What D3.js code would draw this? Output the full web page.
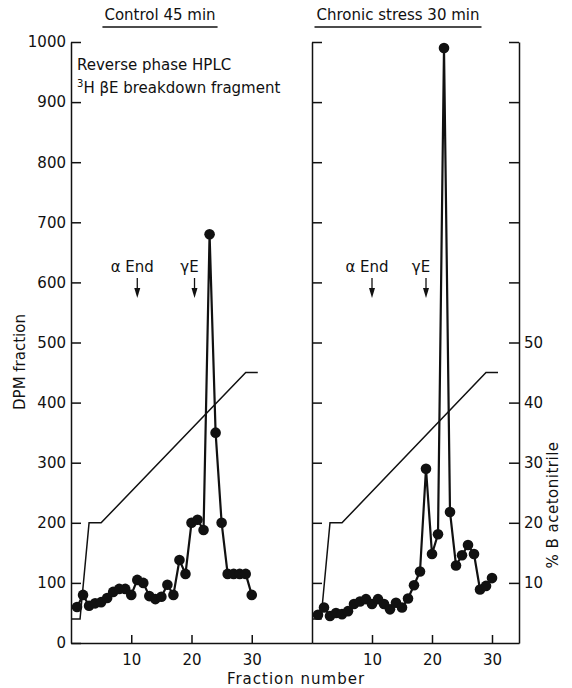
<!DOCTYPE html>
<html>
<head>
<meta charset="utf-8">
<script src="https://cdn.jsdelivr.net/npm/d3@7"></script>
<style>
  body { margin: 0; background: #fff; }
  svg text { font-family: "DejaVu Sans", sans-serif; fill: #111; }
</style>
</head>
<body>
<div id="chart-container"></div>
<script>
// Fraction numbers (x) shared by both runs
const fractions = [1, 2, 3, 4, 5, 6, 7, 8, 9, 10, 11, 12, 13, 14, 15,
                   16, 17, 18, 19, 20, 21, 22, 23, 24, 25, 26, 27, 28, 29, 30];

// DPM per fraction
const controlDPM = [60, 80, 62, 66, 68, 75, 85, 90, 90, 80, 105, 100, 78, 73, 77,
                    97, 80, 138, 115, 200, 205, 188, 680, 350, 200, 115, 115, 115, 115, 80];
const stressDPM = [47, 59, 45, 50, 48, 53, 65, 69, 73, 65, 73, 65, 56, 67, 59,
                   74, 96, 119, 290, 148, 181, 990, 218, 129, 146, 163, 148, 89, 95, 108];

// acetonitrile gradient (% B) against fraction number
const gradientFraction = [0, 1.5, 3, 5, 29, 31];
const gradientPctB = [4, 4, 20, 20, 45, 45];

// elution markers
const markerLabels = ["α End", "γE"];
const controlMarkerFraction = [11, 20.5];
const stressMarkerFraction = [10, 19];

// ticks
const dpmTicks = [0, 100, 200, 300, 400, 500, 600, 700, 800, 900, 1000];
const pctTicks = [10, 20, 30, 40, 50, 60, 70, 80, 90, 100];
const pctLabelMax = 50;
const fractionTicks = [10, 20, 30];

const panelTitles = ["Control 45 min", "Chronic stress 30 min"];

const W = 572, H = 688;
const plotTop = 42, plotBottom = 643;
const leftEdge = 71, midEdge = 312, rightEdge = 519;

const svg = d3.select("#chart-container")
  .append("svg")
  .attr("width", W)
  .attr("height", H);

const y = d3.scaleLinear().domain([0, 1000]).range([plotBottom, plotTop]);
const yPct = d3.scaleLinear().domain([0, 100]).range([plotBottom, plotTop]);
const xLeft = d3.scaleLinear().domain([0, 40]).range([leftEdge, midEdge]);
const xRight = d3.scaleLinear().domain([0, 34.5]).range([midEdge, rightEdge]);

function styleAxis(g) {
  g.selectAll("path, line").attr("stroke", "#111").attr("stroke-width", 1.5);
  g.selectAll("text").attr("font-size", 15).attr("fill", "#111")
    .attr("font-family", "DejaVu Sans, sans-serif");
}

// left DPM axis, ticks pointing in
svg.append("g")
  .attr("transform", `translate(${leftEdge},0)`)
  .call(d3.axisLeft(y).tickValues(dpmTicks).tickSizeInner(-10).tickSizeOuter(0).tickPadding(5)
    .tickFormat(d3.format("d")))
  .call(styleAxis);

// middle divider with ticks into the right panel
svg.append("g")
  .attr("transform", `translate(${midEdge},0)`)
  .call(d3.axisLeft(y).tickValues(dpmTicks.slice(1)).tickSizeInner(-10).tickSizeOuter(0).tickFormat(""))
  .call(styleAxis);

// right % B axis
svg.append("g")
  .attr("transform", `translate(${rightEdge},0)`)
  .call(d3.axisRight(yPct).tickValues(pctTicks).tickSizeInner(-10).tickSizeOuter(0).tickPadding(5)
    .tickFormat(d => d <= pctLabelMax ? d : ""))
  .call(styleAxis);

// bottom axes
[xLeft, xRight].forEach(x => {
  svg.append("g")
    .attr("transform", `translate(0,${plotBottom})`)
    .call(d3.axisBottom(x).tickValues(fractionTicks).tickSizeInner(-8).tickSizeOuter(0).tickPadding(11))
    .call(styleAxis);
});

const line = x => d3.line().x(d => x(d[0])).y(d => y(d[1]));
const gradLine = x => d3.line().x(d => x(d[0])).y(d => yPct(d[1]));

function drawPanel(x, values, markerFraction, title, titleX) {
  const g = svg.append("g");

  // gradient
  g.append("path")
    .datum(gradientFraction.map((f, i) => [f, gradientPctB[i]]))
    .attr("fill", "none")
    .attr("stroke", "#111")
    .attr("stroke-width", 1.5)
    .attr("d", gradLine(x));

  // DPM profile
  const pts = fractions.map((f, i) => [f, values[i]]);
  g.append("path")
    .datum(pts)
    .attr("fill", "none")
    .attr("stroke", "#111")
    .attr("stroke-width", 2.2)
    .attr("stroke-linejoin", "round")
    .attr("d", line(x));

  g.selectAll("circle")
    .data(pts)
    .join("circle")
    .attr("cx", d => x(d[0]))
    .attr("cy", d => y(d[1]))
    .attr("r", 5.3)
    .attr("fill", "#111");

  // elution markers
  markerLabels.forEach((lab, i) => {
    const mx = x(markerFraction[i]);
    g.append("text")
      .attr("x", mx - 5)
      .attr("y", 272)
      .attr("text-anchor", "middle")
      .attr("font-size", 15)
      .text(lab);
    g.append("line")
      .attr("x1", mx).attr("x2", mx)
      .attr("y1", 278).attr("y2", 290)
      .attr("stroke", "#111").attr("stroke-width", 1.3);
    g.append("path")
      .attr("d", `M${mx - 3},${288}L${mx + 3},${288}L${mx},${298}Z`)
      .attr("fill", "#111");
  });

  // title with underline
  const t = svg.append("text")
    .attr("x", titleX)
    .attr("y", 20)
    .attr("text-anchor", "middle")
    .attr("font-size", 15)
    .text(title);
  const len = t.node().getComputedTextLength();
  svg.append("line")
    .attr("x1", titleX - len / 2 - 2).attr("x2", titleX + len / 2 + 2)
    .attr("y1", 27).attr("y2", 27)
    .attr("stroke", "#111").attr("stroke-width", 1.5);
}

drawPanel(xLeft, controlDPM, controlMarkerFraction, panelTitles[0], 160);
drawPanel(xRight, stressDPM, stressMarkerFraction, panelTitles[1], 398);

// inset note
svg.append("text")
  .attr("x", 77).attr("y", 70)
  .attr("font-size", 15)
  .text("Reverse phase HPLC");
const note = svg.append("text")
  .attr("x", 77).attr("y", 93)
  .attr("font-size", 15);
note.append("tspan").attr("font-size", 10).attr("dy", -6).text("3");
note.append("tspan").attr("dy", 6).text("H βE breakdown fragment");

// axis titles
svg.append("text")
  .attr("transform", "translate(25,362) rotate(-90)")
  .attr("text-anchor", "middle")
  .attr("font-size", 15)
  .text("DPM fraction");

svg.append("text")
  .attr("transform", "translate(558,505) rotate(-90)")
  .attr("text-anchor", "middle")
  .attr("font-size", 15)
  .attr("letter-spacing", 0.5)
  .text("% B acetonitrile");

svg.append("text")
  .attr("x", 296).attr("y", 684)
  .attr("text-anchor", "middle")
  .attr("font-size", 15)
  .attr("letter-spacing", 1)
  .text("Fraction number");
</script>
</body>
</html>
